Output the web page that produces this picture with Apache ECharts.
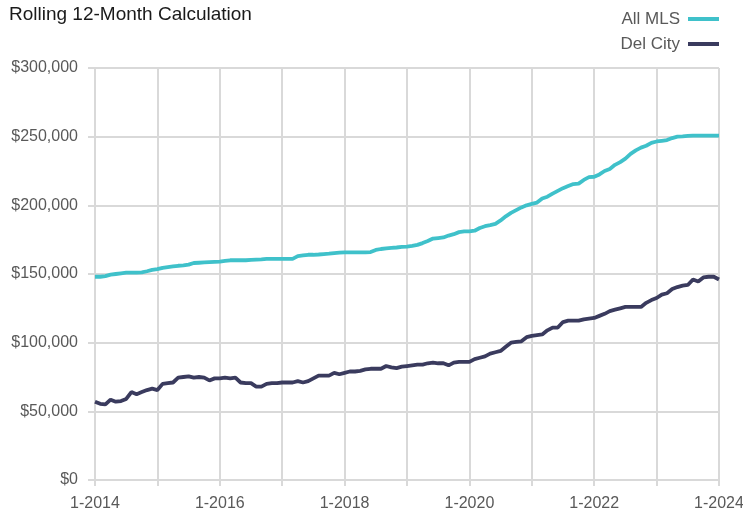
<!DOCTYPE html>
<html>
<head>
<meta charset="utf-8">
<script src="https://cdn.jsdelivr.net/npm/echarts@6/dist/echarts.min.js"></script>
<style>
html,body{margin:0;padding:0;background:#fff;}
#chart{width:743px;height:515px;}
</style>
</head>
<body>
<div id="chart"></div>
<script>
const title = 'Rolling 12-Month Calculation';
const seriesNames = ['All MLS', 'Del City'];
const startYear = 2014;
const endYear = 2024;
const xTickLabels = ['1-2014', '1-2016', '1-2018', '1-2020', '1-2022', '1-2024'];
const yTicks = [0, 50000, 100000, 150000, 200000, 250000, 300000];

// monthly values, Jan 2014 .. Jan 2024 (thousands of $)
const allMLS = [
  148, 148, 148.5, 149.5, 150, 150.5, 151, 151, 151, 151.2, 152, 153,
  153.5, 154.5, 155, 155.5, 156, 156.3, 156.8, 158, 158.2, 158.4, 158.6, 158.8,
  159, 159.5, 160, 160, 160, 160, 160.3, 160.5, 160.7, 161, 161, 161,
  161, 161, 161, 163, 163.5, 164, 164, 164.2, 164.5, 164.8, 165.2, 165.5,
  165.8, 165.8, 165.8, 165.8, 165.8, 166, 167.5, 168.2, 168.6, 169, 169.3, 169.7,
  170, 170.5, 171.2, 172.5, 174, 175.8, 176.2, 176.6, 178, 179, 180.5, 181,
  181, 181.5, 183.5, 184.8, 185.6, 186.5, 189, 192, 194.5, 196.5, 198.5, 200,
  201, 202, 205, 206.3, 208.5, 210.5, 212.5, 214, 215.5, 215.8, 218.5, 220.5,
  220.8, 222.5, 225, 226.5, 229.5, 231.5, 234, 237.5, 240, 242, 243.4, 245.5,
  246.5, 247, 247.5, 249, 250, 250.2, 250.5, 250.8, 250.8, 250.8, 250.8, 250.8,
  250.8
];
const delCity = [
  57, 55.5, 55, 58.5, 57, 57.5, 59, 64, 62.5, 64, 65.5, 66.5,
  65.5, 70, 70.5, 71, 74.5, 75, 75.5, 74.5, 75, 74.5, 72.5, 74,
  74, 74.5, 74, 74.5, 71, 70.5, 70.5, 68, 68, 70, 70.5, 70.5,
  71, 71, 71, 72, 71, 72, 74, 76, 76, 76, 78, 77,
  78, 79, 79, 79.5, 80.5, 81, 81, 81, 83, 82, 81.5, 82.5,
  83, 83.5, 84, 84, 85, 85.5, 85, 85, 83.5, 85.5, 86, 86,
  86, 88, 89, 90, 92, 93, 94, 97, 100, 100.5, 101, 104,
  105, 105.5, 106, 109, 111, 111, 115, 116, 116, 116, 117, 117.5,
  118, 119.5, 121, 123, 124, 125, 126, 126, 126, 126, 129, 131,
  132.5, 135, 136, 139, 140.5, 141.5, 142, 146, 144.5, 147.5, 148, 148,
  146
];

const months = [];
for (let y = startYear; y <= endYear; y++) {
  for (let m = 1; m <= 12; m++) {
    if (y === endYear && m > 1) break;
    months.push(m + '-' + y);
  }
}

const font = '"Liberation Sans Narrow", "Arial Narrow", "Liberation Sans", Arial, sans-serif';
const colors = ['#3fc1ca', '#3a3b5e'];

const chart = echarts.init(document.getElementById('chart'), null, {renderer: 'canvas'});
chart.setOption({
  animation: false,
  backgroundColor: '#ffffff',
  title: {
    text: title,
    left: 4, top: 0,
    textStyle: {fontFamily: font, fontSize: 19, fontWeight: 'normal', color: '#1a1a1a'}
  },
  legend: {
    orient: 'vertical',
    right: 19, top: 4,
    align: 'right',
    itemWidth: 31, itemHeight: 4,
    itemGap: 5,
    icon: 'rect',
    data: seriesNames,
    textStyle: {fontFamily: font, fontSize: 17, color: '#595959', lineHeight: 20, padding: [0, 3, 0, 0]}
  },
  grid: {left: 95, right: 24, top: 68, bottom: 35, containLabel: false, outerBoundsMode: 'none'},
  xAxis: {
    type: 'category',
    data: months,
    boundaryGap: false,
    axisLine: {show: true, lineStyle: {color: '#d9d9d9', width: 2}},
    axisTick: {show: true, length: 6, interval: (i) => i % 12 === 0, lineStyle: {color: '#d9d9d9', width: 2}},
    splitLine: {show: true, interval: (i) => i % 12 === 0, lineStyle: {color: '#d9d9d9', width: 2}},
    axisLabel: {
      interval: (i, v) => xTickLabels.indexOf(v) !== -1,
      formatter: (v) => v,
      margin: 16,
      fontFamily: font, fontSize: 16, color: '#595959'
    }
  },
  yAxis: {
    type: 'value',
    min: yTicks[0], max: yTicks[yTicks.length - 1], interval: 50000,
    axisLine: {show: false},
    axisTick: {show: true, length: 7, lineStyle: {color: '#d9d9d9', width: 2}},
    splitLine: {show: true, lineStyle: {color: '#d9d9d9', width: 2}},
    axisLabel: {
      margin: 17,
      fontFamily: font, fontSize: 16, color: '#595959',
      formatter: (v) => '$' + v.toLocaleString('en-US')
    }
  },
  series: [
    {
      name: seriesNames[0], type: 'line', data: allMLS.map(v => v * 1000),
      showSymbol: false, symbol: 'none', color: colors[0],
      lineStyle: {width: 3.8, color: colors[0]}
    },
    {
      name: seriesNames[1], type: 'line', data: delCity.map(v => v * 1000),
      showSymbol: false, symbol: 'none', color: colors[1],
      lineStyle: {width: 3.8, color: colors[1]}
    }
  ]
});
</script>
</body>
</html>
